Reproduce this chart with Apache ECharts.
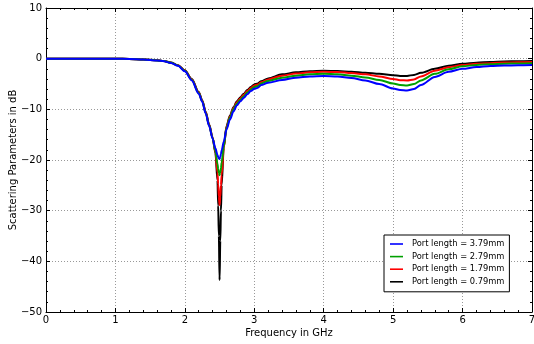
<!DOCTYPE html>
<html><head><meta charset="utf-8">
<script src="https://cdn.jsdelivr.net/npm/echarts@6/dist/echarts.min.js"></script>
<style>html,body{margin:0;padding:0;background:#fff}#c{width:534px;height:344px}</style>
</head><body><div id="c"></div>
<script>
const freq  = [0, 0.5, 1.0, 1.2, 1.4, 1.6, 1.7, 1.8, 1.9, 2.0, 2.1, 2.2, 2.25, 2.3, 2.35, 2.4, 2.44, 2.47, 2.48, 2.49, 2.5, 2.51, 2.52, 2.53, 2.56, 2.6, 2.65, 2.7, 2.75, 2.8, 2.85, 2.9, 2.95, 3.0, 3.05, 3.1, 3.2, 3.4, 3.6, 3.8, 4.0, 4.2, 4.4, 4.6, 4.8, 5.0, 5.1, 5.2, 5.3, 5.4, 5.6, 5.8, 6.0, 6.2, 6.4, 6.6, 6.8, 7.0];
const blue  = [0, 0, 0, -0.05, -0.15, -0.35, -0.5, -0.85, -1.4, -2.5, -4.3, -6.9, -8.5, -10.8, -13.3, -15.8, -17.7, -19.0, -19.4, -19.7, -19.8, -19.4, -18.8, -18.1, -16.4, -14.0, -12.0, -10.4, -9.2, -8.4, -7.7, -7.0, -6.4, -5.95, -5.75, -5.2, -4.75, -4.2, -3.75, -3.5, -3.4, -3.5, -3.8, -4.3, -5.0, -5.9, -6.2, -6.3, -6.0, -5.2, -3.6, -2.6, -2.0, -1.65, -1.45, -1.35, -1.3, -1.25];
const green = [0, 0, 0, -0.05, -0.15, -0.34, -0.48, -0.82, -1.35, -2.4, -4.2, -6.8, -8.4, -10.7, -13.2, -15.7, -18.2, -20.8, -21.8, -22.6, -23.0, -22.5, -21.6, -20.5, -17.3, -13.7, -11.6, -10.0, -8.85, -8.1, -7.4, -6.7, -6.1, -5.6, -5.4, -4.9, -4.4, -3.75, -3.35, -3.1, -3.0, -3.1, -3.35, -3.7, -4.2, -4.9, -5.2, -5.3, -5.0, -4.3, -3.0, -2.1, -1.5, -1.25, -1.1, -1.0, -0.95, -0.9];
const red   = [0, 0, 0, -0.05, -0.15, -0.33, -0.47, -0.8, -1.32, -2.35, -4.1, -6.7, -8.3, -10.6, -13.1, -15.6, -18.4, -22.5, -24.8, -27.2, -28.9, -27.3, -25.0, -23.0, -17.6, -13.5, -11.4, -9.8, -8.6, -7.8, -7.1, -6.4, -5.8, -5.3, -5.1, -4.65, -4.1, -3.35, -2.95, -2.7, -2.6, -2.65, -2.85, -3.1, -3.5, -4.0, -4.25, -4.3, -4.1, -3.5, -2.4, -1.7, -1.25, -1.0, -0.88, -0.78, -0.7, -0.65];
const black = [0, 0, 0, -0.05, -0.15, -0.32, -0.46, -0.78, -1.3, -2.3, -4.0, -6.6, -8.2, -10.5, -13.0, -15.6, -18.6, -24.0, -29.0, -35.0, -43.7, -36.0, -30.0, -25.0, -17.5, -13.3, -11.2, -9.6, -8.4, -7.6, -6.9, -6.2, -5.6, -5.1, -4.9, -4.45, -3.9, -3.1, -2.7, -2.5, -2.4, -2.45, -2.6, -2.8, -3.0, -3.25, -3.4, -3.4, -3.2, -2.8, -2.0, -1.4, -1.0, -0.8, -0.65, -0.55, -0.5, -0.45];
const seriesNames = ['Port length = 3.79mm', 'Port length = 2.79mm', 'Port length = 1.79mm', 'Port length = 0.79mm'];
const seriesValues = [blue, green, red, black];
const seriesColors = ['#0000ff', '#00a000', '#ff0000', '#000000'];

const FONT = 'DejaVu Sans';
const minus = v => String(v).replace('-', '\u2212');
const frame = {show: true, onZero: false, lineStyle: {color: '#000', width: 1}};
const grid = {show: true, lineStyle: {color: '#999', type: [1, 2], width: 1}};
const tick = {show: true, inside: true, length: 4, lineStyle: {color: '#000'}};
const minor = {show: true, splitNumber: 5, length: 2, lineStyle: {color: '#000'}};

const chart = echarts.init(document.getElementById('c'), null, {renderer: 'canvas'});
chart.setOption({
  animation: false,
  backgroundColor: '#fff',
  grid: {left: 46, right: 2, top: 8, bottom: 32, containLabel: false, outerBoundsMode: 'none'},
  xAxis: [{
    type: 'value', min: 0, max: 7, interval: 1, position: 'bottom',
    name: 'Frequency in GHz', nameLocation: 'middle', nameGap: 16, nameMoveOverlap: false,
    nameTextStyle: {fontFamily: FONT, fontSize: 10, color: '#000'},
    axisLine: frame, axisTick: tick, minorTick: minor,
    axisLabel: {fontFamily: FONT, fontSize: 10, color: '#000', margin: 3, formatter: minus},
    splitLine: grid
  }, {
    type: 'value', min: 0, max: 7, interval: 1, position: 'top',
    axisLine: frame, axisTick: tick, minorTick: minor,
    axisLabel: {show: false}, splitLine: {show: false}
  }],
  yAxis: [{
    type: 'value', min: -50, max: 10, interval: 10, position: 'left',
    name: 'Scattering Parameters in dB', nameLocation: 'middle', nameGap: 28, nameMoveOverlap: false,
    nameTextStyle: {fontFamily: FONT, fontSize: 10, color: '#000'},
    axisLine: frame, axisTick: tick, minorTick: minor,
    axisLabel: {fontFamily: FONT, fontSize: 10, color: '#000', margin: 4, formatter: minus},
    splitLine: grid
  }, {
    type: 'value', min: -50, max: 10, interval: 10, position: 'right',
    axisLine: frame, axisTick: tick, minorTick: minor,
    axisLabel: {show: false}, splitLine: {show: false}
  }],
  legend: {
    orient: 'vertical', left: 384, top: 235,
    backgroundColor: '#fff', borderColor: '#000', borderWidth: 1, borderRadius: 0,
    padding: [4, 5, 5, 6], itemGap: 2.6, itemWidth: 13, itemHeight: 10,
    icon: 'path://M0,4.2H13V5.8H0Z',
    textStyle: {fontFamily: FONT, fontSize: 8.3, color: '#000', lineHeight: 10, height: 10, padding: [0, 0, 0, 4]},
    data: seriesNames
  },
  series: seriesNames.map((n, i) => ({
    name: n, type: 'line', xAxisIndex: 0, yAxisIndex: 0,
    showSymbol: false, symbol: 'none', smooth: 0.3, smoothMonotone: 'x',
    z: 10 - i,
    lineStyle: {color: seriesColors[i], width: 2},
    itemStyle: {color: seriesColors[i]},
    data: freq.map((f, k) => [f, seriesValues[i][k]])
  }))
});
</script></body></html>
